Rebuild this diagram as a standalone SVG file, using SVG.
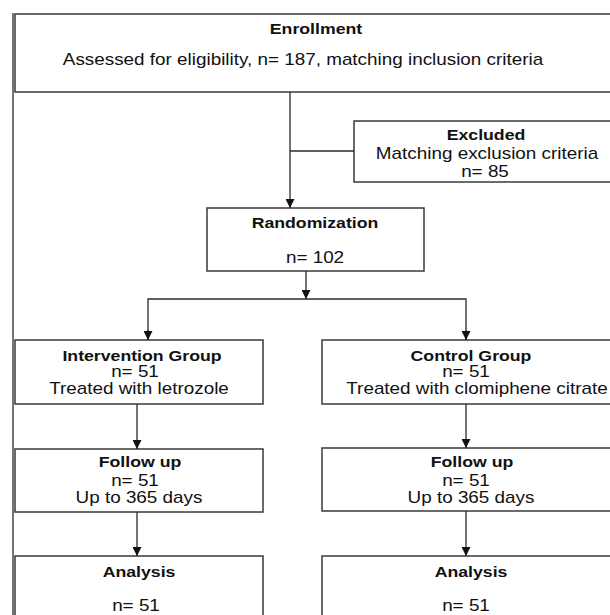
<svg xmlns="http://www.w3.org/2000/svg" width="610" height="615" viewBox="0 0 610 615">
<style>
.box{fill:#fff;stroke:#3a3a3a;stroke-width:1.5}
.ln{fill:none;stroke:#2a2a2a;stroke-width:1.3}
.t{font-family:"Liberation Sans",Arial,sans-serif;font-size:16px;fill:#111;text-anchor:middle}
.b{font-weight:bold;font-size:15px}
</style>
<defs>
<marker id="ar" viewBox="0 0 10 10" refX="10" refY="5" markerWidth="9" markerHeight="9" markerUnits="userSpaceOnUse" orient="auto">
<path d="M0,0 L10,5 L0,10 z" fill="#111"/>
</marker>
</defs>
<rect width="610" height="615" fill="#fff"/>
<line x1="13" y1="13" x2="13" y2="615" class="ln"/>
<g id="enrollment">
<rect class="box" x="15" y="14" width="610" height="78"/>
<text class="t b" transform="translate(316,34) scale(1.18,1)">Enrollment</text>
<text class="t" transform="translate(303,65) scale(1.18,1)">Assessed for eligibility, n= 187, matching inclusion criteria</text>
</g>
<g id="excluded">
<rect class="box" x="354" y="121" width="270" height="61"/>
<text class="t b" transform="translate(486,140) scale(1.18,1)">Excluded</text>
<text class="t" transform="translate(487,159) scale(1.18,1)">Matching exclusion criteria</text>
<text class="t" transform="translate(485,177) scale(1.18,1)">n= 85</text>
</g>
<g id="randomization">
<rect class="box" x="207" y="208" width="217" height="63"/>
<text class="t b" transform="translate(315,228) scale(1.18,1)">Randomization</text>
<text class="t" transform="translate(315,263) scale(1.18,1)">n= 102</text>
</g>
<g id="intervention">
<rect class="box" x="15" y="340" width="248" height="64"/>
<text class="t b" transform="translate(142,361) scale(1.18,1)">Intervention Group</text>
<text class="t" transform="translate(135,377) scale(1.18,1)">n= 51</text>
<text class="t" transform="translate(139,394) scale(1.18,1)">Treated with letrozole</text>
</g>
<g id="control">
<rect class="box" x="322" y="340" width="300" height="64"/>
<text class="t b" transform="translate(471,361) scale(1.18,1)">Control Group</text>
<text class="t" transform="translate(466,377) scale(1.18,1)">n= 51</text>
<text class="t" transform="translate(477,394) scale(1.18,1)">Treated with clomiphene citrate</text>
</g>
<g id="followup-left">
<rect class="box" x="15" y="449" width="248" height="63"/>
<text class="t b" transform="translate(140,467) scale(1.18,1)">Follow up</text>
<text class="t" transform="translate(135,486) scale(1.18,1)">n= 51</text>
<text class="t" transform="translate(139,503) scale(1.18,1)">Up to 365 days</text>
</g>
<g id="followup-right">
<rect class="box" x="322" y="448" width="300" height="63"/>
<text class="t b" transform="translate(472,467) scale(1.18,1)">Follow up</text>
<text class="t" transform="translate(466,486) scale(1.18,1)">n= 51</text>
<text class="t" transform="translate(471,503) scale(1.18,1)">Up to 365 days</text>
</g>
<g id="analysis-left">
<rect class="box" x="15" y="556" width="248" height="70"/>
<text class="t b" transform="translate(139,577) scale(1.18,1)">Analysis</text>
<text class="t" transform="translate(136,611) scale(1.18,1)">n= 51</text>
</g>
<g id="analysis-right">
<rect class="box" x="322" y="556" width="300" height="70"/>
<text class="t b" transform="translate(471,577) scale(1.18,1)">Analysis</text>
<text class="t" transform="translate(466,611) scale(1.18,1)">n= 51</text>
</g>
<g id="connectors">
<line class="ln" x1="290" y1="92" x2="290" y2="208" marker-end="url(#ar)"/>
<line class="ln" x1="290" y1="151" x2="354" y2="151"/>
<line class="ln" x1="306" y1="271" x2="306" y2="299" marker-end="url(#ar)"/>
<polyline class="ln" points="148,340 148,299 466,299 466,340"/>
<line class="ln" x1="148" y1="330" x2="148" y2="340" marker-end="url(#ar)"/>
<line class="ln" x1="466" y1="330" x2="466" y2="340" marker-end="url(#ar)"/>
<line class="ln" x1="137" y1="404" x2="137" y2="449" marker-end="url(#ar)"/>
<line class="ln" x1="466" y1="404" x2="466" y2="448" marker-end="url(#ar)"/>
<line class="ln" x1="137" y1="512" x2="137" y2="556" marker-end="url(#ar)"/>
<line class="ln" x1="466" y1="511" x2="466" y2="556" marker-end="url(#ar)"/>
</g>
</svg>
